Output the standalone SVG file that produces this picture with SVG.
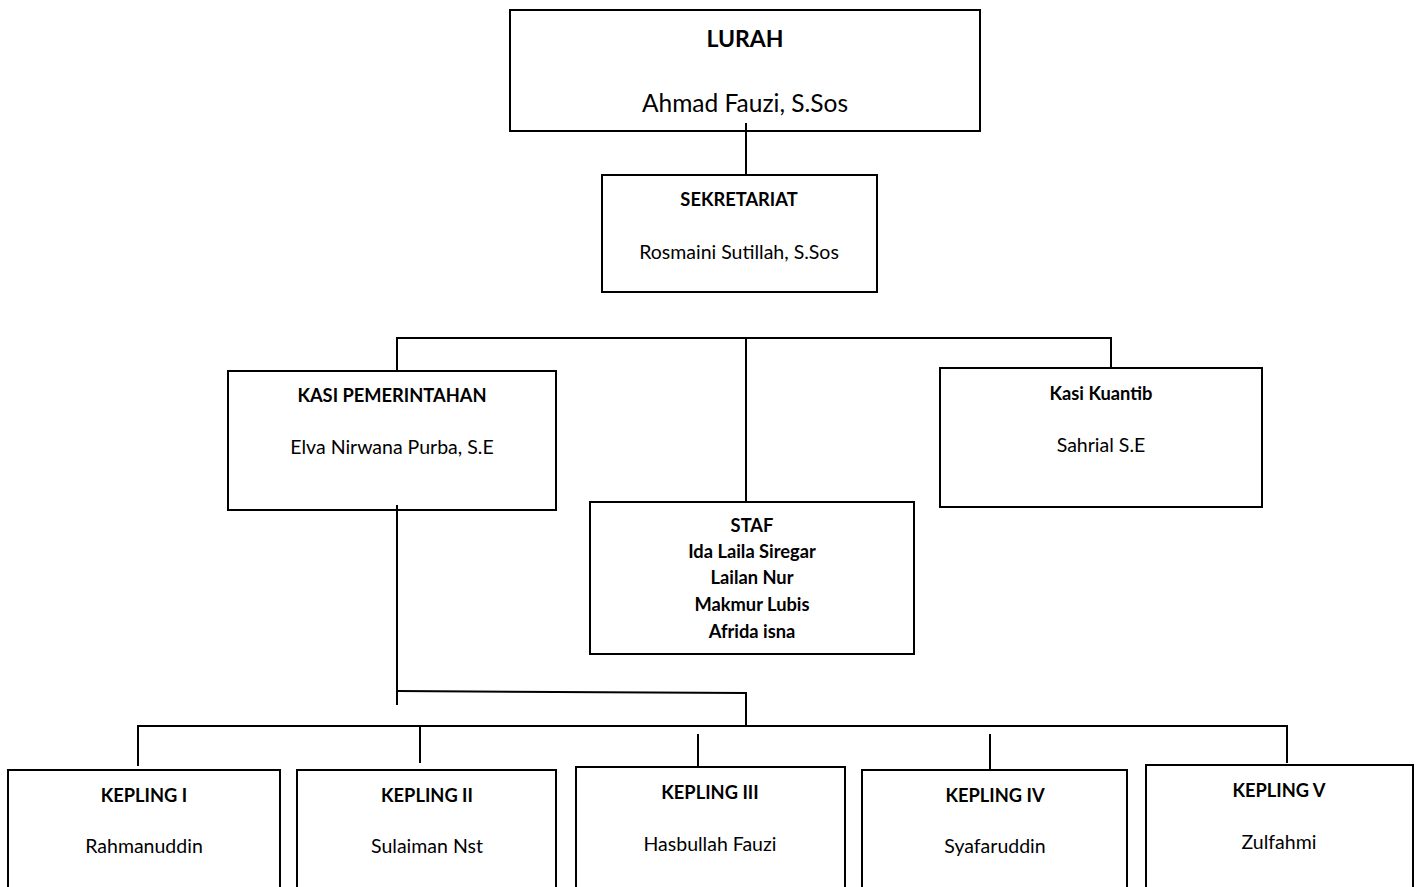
<svg xmlns="http://www.w3.org/2000/svg" width="1418" height="887" viewBox="0 0 1418 887">
<style>
rect{fill:#fff;stroke:#000;stroke-width:2}
.c line,.c polyline{stroke:#000;stroke-width:2;fill:none}
text{font-family:Lato,"Open Sans","Liberation Sans",sans-serif;font-size:19.5px;fill:#000;text-anchor:middle}
.b{font-weight:bold;font-size:18.3px}
.lb{font-weight:bold;font-size:23px}
.big{font-size:24.5px}
</style>
<rect x="0" y="0" width="1418" height="887" style="stroke:none"/>
<g id="lurah"><rect x="510" y="10" width="470" height="121"/><text class="lb" x="745" y="47">LURAH</text><text class="big" x="745" y="112">Ahmad Fauzi, S.Sos</text></g>
<g id="sekretariat"><rect x="602" y="175" width="275" height="117"/><text class="b" x="739" y="206">SEKRETARIAT</text><text x="739" y="259">Rosmaini Sutillah, S.Sos</text></g>
<g id="kasi-pemerintahan"><rect x="228" y="371" width="328" height="139"/><text class="b" x="392" y="402">KASI PEMERINTAHAN</text><text x="392" y="454">Elva Nirwana Purba, S.E</text></g>
<g id="kasi-kuantib"><rect x="940" y="368" width="322" height="139"/><text class="b" x="1101" y="400">Kasi Kuantib</text><text x="1101" y="452">Sahrial S.E</text></g>
<g id="staf"><rect x="590" y="502" width="324" height="152"/><text class="b" x="752" y="532">STAF</text><text class="b" x="752" y="558">Ida Laila Siregar</text><text class="b" x="752" y="584">Lailan Nur</text><text class="b" x="752" y="611">Makmur Lubis</text><text class="b" x="752" y="638">Afrida isna</text></g>
<g id="kepling-1"><rect x="8" y="770" width="272" height="140"/><text class="b" x="144" y="802">KEPLING I</text><text x="144" y="853">Rahmanuddin</text></g>
<g id="kepling-2"><rect x="297" y="770" width="259" height="140"/><text class="b" x="427" y="802">KEPLING II</text><text x="427" y="853">Sulaiman Nst</text></g>
<g id="kepling-3"><rect x="576" y="767" width="269" height="140"/><text class="b" x="710" y="799">KEPLING III</text><text x="710" y="851">Hasbullah Fauzi</text></g>
<g id="kepling-4"><rect x="862" y="770" width="265" height="140"/><text class="b" x="995" y="802">KEPLING IV</text><text x="995" y="853">Syafaruddin</text></g>
<g id="kepling-5"><rect x="1146" y="765" width="267" height="140"/><text class="b" x="1279" y="797">KEPLING V</text><text x="1279" y="849">Zulfahmi</text></g>
<g class="c" id="connectors">
<line x1="746" y1="123" x2="746" y2="176"/>
<line x1="397" y1="338" x2="1111" y2="338"/>
<line x1="397" y1="337" x2="397" y2="372"/>
<line x1="746" y1="338" x2="746" y2="503"/>
<line x1="1111" y1="337" x2="1111" y2="369"/>
<line x1="397" y1="505" x2="397" y2="705"/>
<polyline points="397,691 746,693 746,726"/>
<line x1="137" y1="726" x2="1288" y2="726"/>
<line x1="138" y1="726" x2="138" y2="766"/>
<line x1="420" y1="727" x2="420" y2="763"/>
<line x1="698" y1="734" x2="698" y2="768"/>
<line x1="990" y1="734" x2="990" y2="769"/>
<line x1="1287" y1="726" x2="1287" y2="763"/>
</g>
</svg>
